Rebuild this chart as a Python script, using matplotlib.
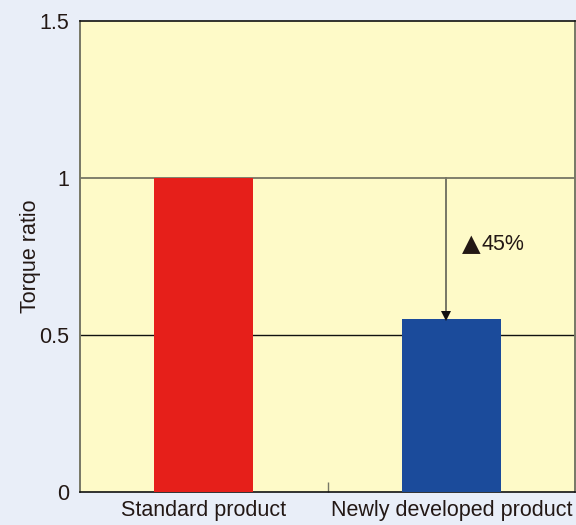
import matplotlib
matplotlib.use("Agg")
import matplotlib.pyplot as plt

plt.rcParams['font.family'] = ['Liberation Sans', 'DejaVu Sans']

categories = ["Standard product", "Newly developed product"]
torque_ratio = [1.0, 0.55]
bar_colors = ["#E61F1A", "#1B4B9B"]
y_ticks = [0, 0.5, 1, 1.5]
y_tick_labels = ["0", "0.5", "1", "1.5"]
reduction_sign = "\u25B2"
reduction_text = "45%"

fig = plt.figure(figsize=(5.76, 5.25), dpi=100, facecolor="#E9EEF8")
ax = fig.add_axes([0.1389, 0.0629, 0.8594, 0.8962])
ax.set_facecolor("#FEFAC8")

x = list(range(len(categories)))
ax.bar(x, torque_ratio, width=0.4, color=bar_colors, zorder=3)

ax.set_xlim(-0.5, 1.5)
ax.set_ylim(0, 1.5)

# horizontal reference lines
ax.axhline(0.5, color="#111111", lw=1.0, zorder=1)
ax.axhline(1.0, color="#6B6B5C", lw=1.2, zorder=1)

ax.set_yticks(y_ticks)
ax.set_yticklabels(y_tick_labels)
ax.set_xticks(x)
ax.set_xticklabels(categories)
ax.set_xticks([0.5], minor=True)
ax.tick_params(axis='y', length=0, pad=7.5, labelsize=15.5, labelcolor="#231815")
ax.tick_params(axis='x', which='major', length=0, pad=6, labelsize=15.5, labelcolor="#231815")
ax.tick_params(axis='x', which='minor', direction='in', length=7, width=1, color="#777766")

ax.set_ylabel("Torque ratio", fontsize=15.5, color="#231815")
ax.yaxis.set_label_coords(-0.079, 0.502)

for side in ("left", "right"):
    ax.spines[side].set_color("#777766")
    ax.spines[side].set_linewidth(1.4)
for side in ("top", "bottom"):
    ax.spines[side].set_color("#111111")
    ax.spines[side].set_linewidth(1.2)

# reduction arrow from the standard level down to the new product's bar
arrow_x = 0.98
new_val = torque_ratio[1]
std_val = torque_ratio[0]
ax.plot([arrow_x, arrow_x], [std_val, new_val + 0.02], color="#777766", lw=1.4, zorder=4)
ax.plot([arrow_x], [new_val + 0.012], marker='v', markersize=7, color="#111111",
        markeredgewidth=0, zorder=5)
ax.text(1.044, 0.79, reduction_sign, fontsize=17.5, color="#231815",
        ha='left', va='center', family='DejaVu Sans', zorder=5)
ax.text(1.122, 0.79, reduction_text, fontsize=15.5, color="#231815",
        ha='left', va='center', zorder=5)

fig.savefig("out.png", dpi=100, facecolor=fig.get_facecolor())
